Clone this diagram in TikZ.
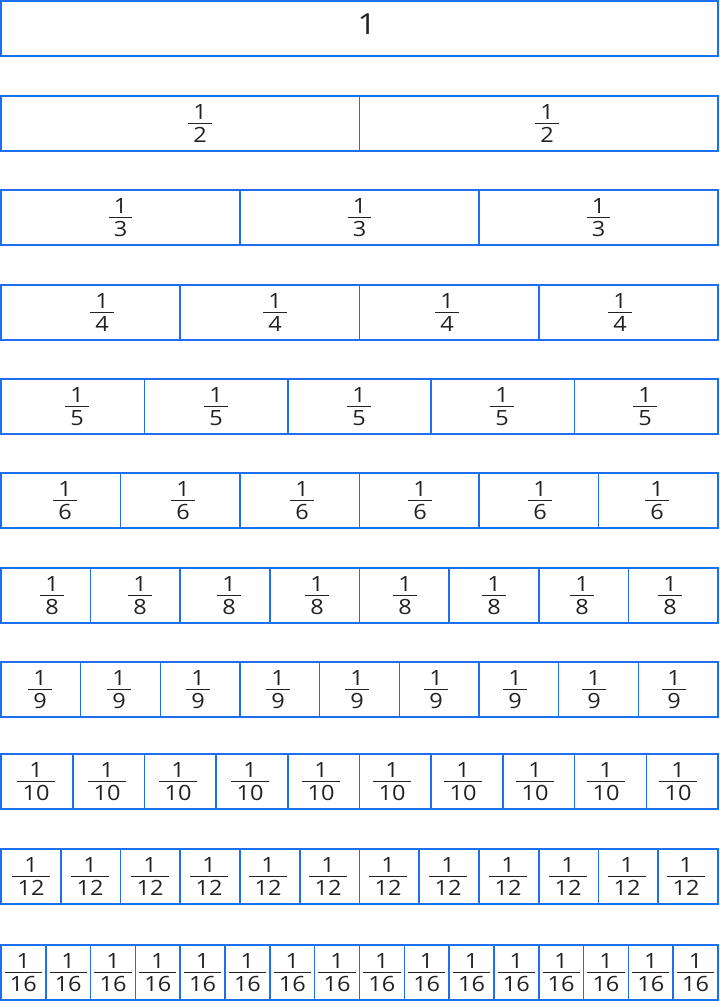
\documentclass[tikz,border=0pt]{standalone}
\usepackage{fontspec}
\setmainfont{Open Sans}
\newfontfamily\fracfont[FakeStretch=1.12]{Open Sans}
\definecolor{stripblue}{RGB}{30,110,240}
\definecolor{ink}{RGB}{34,34,34}
\newcommand\fracat[4]{%
  \coordinate (#1c) at (#2,#3);
  \node[num] (#1n) at (#2,#3-4) {1};
  \node[den] (#1d) at (#2,#3+19) {#4};
  \draw[bar] (#1d.west |- #1c) -- (#1d.east |- #1c);
}
\begin{document}
\begin{tikzpicture}[x=1pt,y=-1pt,
  strip/.style={draw=stripblue,line width=1.6pt},
  num/.style={anchor=base,inner sep=0pt,text=ink,font=\fracfont\fontsize{21}{24}\selectfont},
  den/.style={anchor=base,inner xsep=5pt,inner ysep=0pt,text=ink,font=\fracfont\fontsize{21}{24}\selectfont},
  bar/.style={draw=ink,line width=1.1pt},
  whole/.style={anchor=base,inner sep=0pt,text=ink,font=\fracfont\fontsize{29}{32}\selectfont}]
\useasboundingbox (0,0) rectangle (720,1002);
% row 1
\draw[strip] (1,1) rectangle (718,56);
\node[whole] (one) at (367,34) {1};
% rows with equal dividers
\foreach \n/\t in {2/96,3/190,4/285,5/379,6/473,8/568,9/662,10/754,12/849,16/945}{
  \draw[strip] (1,\t) rectangle (718,\t+55);
  \pgfmathtruncatemacro\m{\n-1}
  \foreach \k in {1,...,\m}{
    \draw[strip] ({1+717*\k/\n},\t) -- ({1+717*\k/\n},\t+55);
  }
}
% labels at cell centres
\foreach \n/\t in {3/190,16/945}{
  \foreach \k in {1,...,\n}{
    \pgfmathsetmacro\cx{1+717*(\k-0.5)/\n}
    \fracat{r\n c\k}{\cx}{\t+27.5}{\n}
  }
}
% labels placed as in the reference
\foreach \x [count=\k] in {200,547}{\fracat{r2c\k}{\x}{123.5}{2}}
\foreach \x [count=\k] in {102,275,447,620}{\fracat{r4c\k}{\x}{312.5}{4}}
\foreach \x [count=\k] in {77,216,359,502,645}{\fracat{r5c\k}{\x}{406.5}{5}}
\foreach \x [count=\k] in {65,183,302,420,540,657}{\fracat{r6c\k}{\x}{500.5}{6}}
\foreach \x [count=\k] in {52,140,229,317,405,494,582,670}{\fracat{r8c\k}{\x}{595.5}{8}}
\foreach \x [count=\k] in {40,119,198,278,357,436,515,594,674}{\fracat{r9c\k}{\x}{689.5}{9}}
\foreach \x [count=\k] in {36,107,178,250,321,392,463,535,606,678}{\fracat{r10c\k}{\x}{781.5}{10}}
\foreach \x [count=\k] in {31,90,150,209,268,328,388,448,508,568,627,686}{\fracat{r12c\k}{\x}{876.5}{12}}
\end{tikzpicture}
\end{document}
